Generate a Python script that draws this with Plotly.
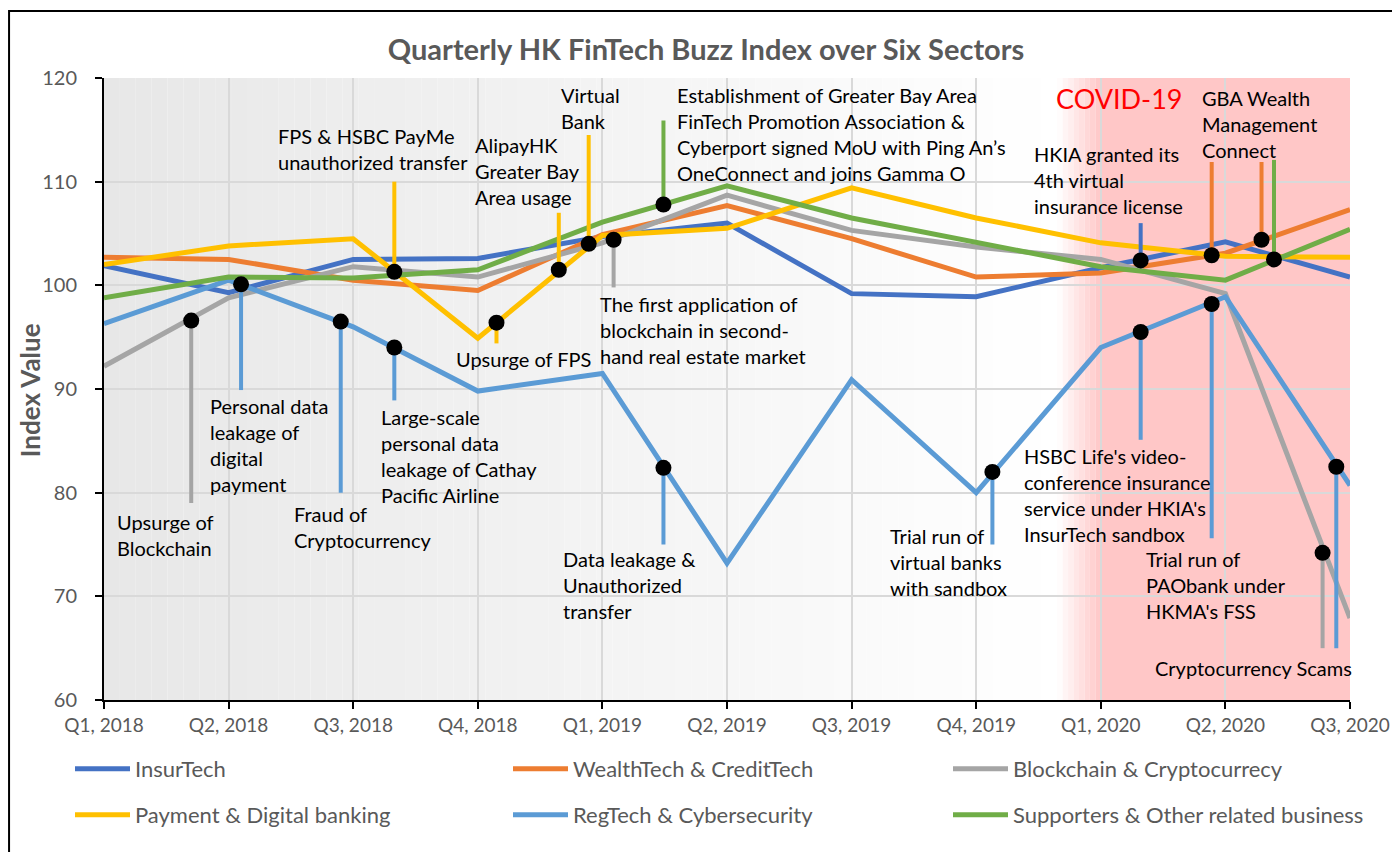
import plotly.graph_objects as go

# ---------------- data ----------------
quarters = ["Q1, 2018", "Q2, 2018", "Q3, 2018", "Q4, 2018", "Q1, 2019", "Q2, 2019",
            "Q3, 2019", "Q4, 2019", "Q1, 2020", "Q2, 2020", "Q3, 2020"]

insurtech = [101.9, 99.3, 102.5, 102.6, 104.7, 106.0, 99.2, 98.9, 101.7, 104.2, 100.8]
wealthtech = [102.7, 102.5, 100.5, 99.5, 104.9, 107.7, 104.5, 100.8, 101.2, 103.1, 107.3]
blockchain = [92.2, 98.8, 101.8, 100.8, 104.1, 108.7, 105.3, 103.7, 102.5, 99.2, 67.9]
payment = [102.0, 103.8, 104.5, 94.9, 104.8, 105.5, 109.4, 106.5, 104.1, 102.8, 102.7]
regtech = [96.3, 100.5, 96.0, 89.8, 91.5, 73.2, 90.9, 80.0, 94.0, 98.9, 80.7]
supporters = [98.8, 100.8, 100.7, 101.5, 106.1, 109.6, 106.5, 104.1, 101.8, 100.5, 105.4]

series_names = ["InsurTech", "WealthTech & CreditTech", "Blockchain & Cryptocurrecy",
                "Payment & Digital banking", "RegTech & Cybersecurity",
                "Supporters & Other related business"]
series_values = [insurtech, wealthtech, blockchain, payment, regtech, supporters]

# events: series index, position (fractional quarter), value at dot, stem end value
event_series = [2, 4, 4, 4, 3, 3, 3, 3, 2, 5, 4, 4, 0, 4, 4, 1, 1, 5, 2, 4]
event_x = [0.70, 1.10, 1.90, 2.33, 2.33, 3.15, 3.65, 3.89, 4.09, 4.49, 4.49, 7.13,
           8.32, 8.32, 8.89, 8.89, 9.29, 9.39, 9.78, 9.89]
event_y = [96.6, 100.1, 96.5, 94.0, 101.3, 96.4, 101.5, 104.0, 104.4, 107.8, 82.4, 82.0,
           102.4, 95.5, 98.2, 102.9, 104.4, 102.5, 74.2, 82.5]
event_stem_end = [79.0, 89.9, 80.0, 88.9, 110.0, 94.4, 107.0, 114.5, 99.8, 115.9, 75.0, 75.0,
                  106.0, 85.1, 75.6, 111.9, 111.9, 112.1, 65.0, 65.0]

event_labels = [
    ["Upsurge of", "Blockchain"],
    ["Personal data", "leakage of", "digital", "payment"],
    ["Fraud of", "Cryptocurrency"],
    ["Large-scale", "personal data", "leakage of Cathay", "Pacific Airline"],
    ["FPS & HSBC PayMe", "unauthorized transfer"],
    ["Upsurge of FPS"],
    ["AlipayHK", "Greater Bay", "Area usage"],
    ["Virtual", "Bank"],
    ["The first application of", "blockchain in second-", "hand real estate market"],
    ["Establishment of Greater Bay Area", "FinTech Promotion Association &",
     "Cyberport signed MoU with Ping An\u2019s", "OneConnect and joins Gamma O"],
    ["Data leakage &", "Unauthorized", "transfer"],
    ["Trial run of", "virtual banks", "with sandbox"],
    ["HKIA granted its", "4th virtual", "insurance license"],
    ["HSBC Life's video-", "conference insurance", "service under HKIA's", "InsurTech sandbox"],
    ["Trial run of", "PAObank under", "HKMA's FSS"],
    ["GBA Wealth", "Management", "Connect"],
    ["Cryptocurrency Scams"],
]

# ---------------- styles / layout positions ----------------
colors = ["#4472C4", "#ED7D31", "#A5A5A5", "#FFC000", "#5B9BD5", "#70AD47"]
FONT = "Lato"
W, H = 1400, 852
OFF = 8  # page offset of the figure inside the browser window
label_pos = [(0.088, 77.2), (0.835, 88.4), (1.509, 77.9), (2.207, 87.3), (1.380, 114.4),
             (2.809, 92.9), (2.961, 113.5), (3.652, 118.4), (3.965, 98.2), (4.583, 118.4),
             (3.668, 73.6), (6.292, 75.8), (7.448, 112.7), (7.368, 83.5), (8.347, 73.6),
             (8.796, 118.1), (8.419, 63.1)]
LINE_STEP = 2.51
# legend item positions (screen px of legend box left, row centre)
legend_cols = [70, 508, 948]
legend_rows = [769, 815]

xs = list(range(len(quarters)))
fig = go.Figure()

legend_ids = ["legend", "legend2", "legend3", "legend4", "legend5", "legend6"]
for i, (name, vals) in enumerate(zip(series_names, series_values)):
    fig.add_trace(go.Scatter(
        x=xs, y=vals, mode="lines", name=name,
        line=dict(color=colors[i], width=5),
        legend=legend_ids[i], hoverinfo="skip"))

for s, ex, ey, ee in zip(event_series, event_x, event_y, event_stem_end):
    fig.add_trace(go.Scatter(x=[ex, ex], y=[ey, ee], mode="lines",
                             line=dict(color=colors[s], width=4),
                             showlegend=False, hoverinfo="skip"))

fig.add_trace(go.Scatter(x=event_x, y=event_y, mode="markers",
                         marker=dict(color="black", size=16),
                         showlegend=False, hoverinfo="skip"))

# background: gray gradient then COVID pink
shapes = []
n = 60
g_end = 7.65
for k in range(n):
    x0 = g_end * k / n
    x1 = g_end * (k + 1) / n
    c = int(round(231 + (255 - 231) * (k + 0.5) / n))
    shapes.append(dict(type="rect", xref="x", yref="paper", x0=x0, x1=x1, y0=0, y1=1,
                       fillcolor=f"rgb({c},{c},{c})", line=dict(width=0), layer="below"))
m = 8
for k in range(m):
    x0 = g_end + (8.0 - g_end) * k / m
    x1 = g_end + (8.0 - g_end) * (k + 1) / m
    t = (k + 0.5) / m
    gb = int(round(255 - (255 - 199) * t))
    shapes.append(dict(type="rect", xref="x", yref="paper", x0=x0, x1=x1, y0=0, y1=1,
                       fillcolor=f"rgb(255,{gb},{gb})", line=dict(width=0), layer="below"))
shapes.append(dict(type="rect", xref="x", yref="paper", x0=8.0, x1=10, y0=0, y1=1,
                   fillcolor="rgb(255,199,199)", line=dict(width=0), layer="below"))
# outer frame
shapes.append(dict(type="rect", xref="paper", yref="paper", x0=-0.0762, x1=1.08,
                   y0=-0.3, y1=1.1077, line=dict(color="black", width=2),
                   fillcolor="rgba(0,0,0,0)", layer="above"))

annotations = []
for lines, (lx, ly) in zip(event_labels, label_pos):
    for j, txt in enumerate(lines):
        annotations.append(dict(x=lx, y=ly - j * LINE_STEP, xref="x", yref="y",
                                text=txt, showarrow=False, xanchor="left", yanchor="middle",
                                font=dict(family=FONT, size=20, color="black")))
annotations.append(dict(x=7.624, y=118.0, xref="x", yref="y", text="COVID-19",
                        showarrow=False, xanchor="left", yanchor="middle",
                        font=dict(family=FONT, size=27, color="#FF0000")))
annotations.append(dict(x=-0.0594, y=0.498, xref="paper", yref="paper",
                        text="<b>Index Value</b>", textangle=-90, showarrow=False,
                        xanchor="center", yanchor="middle",
                        font=dict(family=FONT, size=26, color="#595959")))

legend_layout = {}
for i, lid in enumerate(legend_ids):
    col = legend_cols[i % 3]
    row = legend_rows[i // 3]
    legend_layout[lid] = dict(
        xref="container", yref="container",
        x=(col - OFF) / W, y=1 - (row - OFF) / H, xanchor="left", yanchor="middle",
        itemwidth=55, font=dict(family=FONT, size=22, color="#595959"),
        bgcolor="rgba(0,0,0,0)", borderwidth=0)

fig.update_layout(
    width=W, height=H,
    margin=dict(l=104 - OFF, r=W - (1350 - OFF), t=78 - OFF, b=H - (700 - OFF),
                autoexpand=False),
    paper_bgcolor="white", plot_bgcolor="white",
    title=dict(text="<b>Quarterly HK FinTech Buzz Index over Six Sectors</b>",
               x=(706 - OFF) / W, xref="container", xanchor="center",
               y=1 - (50 - OFF) / H, yref="container", yanchor="middle",
               font=dict(family=FONT, size=29, color="#595959")),
    font=dict(family=FONT, color="#595959"),
    shapes=shapes,
    annotations=annotations,
    showlegend=True,
    **legend_layout,
)

fig.update_xaxes(range=[0, 10], tickmode="array", tickvals=xs, ticktext=quarters,
                 showgrid=True, gridcolor="#D9D9D9", gridwidth=1.5,
                 showline=True, linecolor="black", linewidth=2,
                 ticks="outside", ticklen=7, tickcolor="black", tickwidth=2,
                 tickfont=dict(family=FONT, size=19, color="#595959"),
                 tickangle=0,
                 zeroline=False, fixedrange=True, automargin=False)
fig.update_yaxes(range=[60, 120], tickvals=[60, 70, 80, 90, 100, 110, 120],
                 showgrid=True, gridcolor="#D9D9D9", gridwidth=1.5,
                 showline=True, linecolor="black", linewidth=2,
                 ticks="outside", ticklen=7, tickcolor="black", tickwidth=2,
                 ticklabelstandoff=14,
                 tickfont=dict(family=FONT, size=20, color="#595959"),
                 zeroline=False, fixedrange=True, automargin=False)

fig.write_html("out.html")
